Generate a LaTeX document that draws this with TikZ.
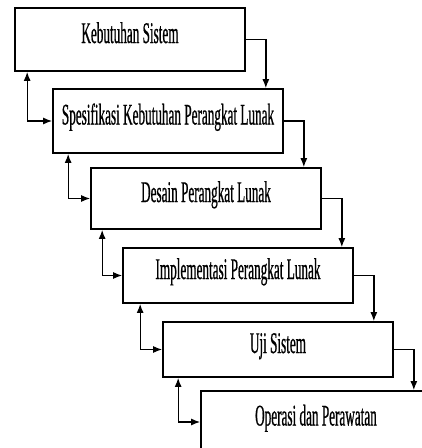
\documentclass[tikz,border=0pt]{standalone}
\usepackage{fontspec}
\newfontfamily\stagefont[FakeStretch=0.44,FakeBold=0.6]{Liberation Serif}
\usetikzlibrary{arrows.meta}
\tikzset{
  stage/.style={draw, line width=1.7pt, minimum width=230pt, text height=20pt, text depth=13pt,
    inner sep=0pt, font=\stagefont\fontsize{30}{30}\selectfont},
  flow/.style={line width=1.3pt, -{Latex[length=9pt,width=7pt]}},
  back/.style={line width=1.3pt, {Latex[length=9pt,width=7pt]}-{Latex[length=9pt,width=7pt]}}
}

\begin{document}
\begin{tikzpicture}[x=1pt,y=-1pt]
			%%%%% START %%%%%
			\useasboundingbox[fill=white] (0,0) rectangle (422,448);
			\clip (0,0) rectangle (422,448);
			
			\node[stage, minimum height=63pt] (kebutuhan) at (130, 39.5) {Kebutuhan Sistem};
			\node[stage, minimum height=64pt] (spesifikasi) at (168, 121) {Spesifikasi Kebutuhan Perangkat Lunak};
			\node[stage, minimum height=61pt] (desain) at (206, 198.5) {Desain Perangkat Lunak};
			\node[stage, minimum height=55pt] (implementasi) at (238, 275.5) {Implementasi Perangkat Lunak};
			\node[stage, minimum height=55pt] (uji) at (278, 349.5) {Uji Sistem};
			\node[stage, minimum height=62pt] (operasi) at (316, 422) {Operasi dan Perawatan};
			
			% turun ke tahap berikutnya
			\draw[flow] (kebutuhan.east) -| ([xshift=20pt]kebutuhan.east |- spesifikasi.north);
			\draw[flow] (spesifikasi.east) -| ([xshift=20pt]spesifikasi.east |- desain.north);
			\draw[flow] (desain.east) -| ([xshift=20pt]desain.east |- implementasi.north);
			\draw[flow] (implementasi.east) -| ([xshift=20pt]implementasi.east |- uji.north);
			\draw[flow] (uji.east) -| ([xshift=20pt]uji.east |- operasi.north);
			
			% umpan balik ke tahap sebelumnya
			\draw[back] ([xshift=13pt]kebutuhan.south west) |- (spesifikasi.west);
			\draw[back] ([xshift=16pt]spesifikasi.south west) |- (desain.west);
			\draw[back] ([xshift=12pt]desain.south west) |- (implementasi.west);
			\draw[back] ([xshift=18pt]implementasi.south west) |- (uji.west);
			\draw[back] ([xshift=16pt]uji.south west) |- (operasi.west);
			
			%%%%% END %%%%%
		\end{tikzpicture}
\end{document}
